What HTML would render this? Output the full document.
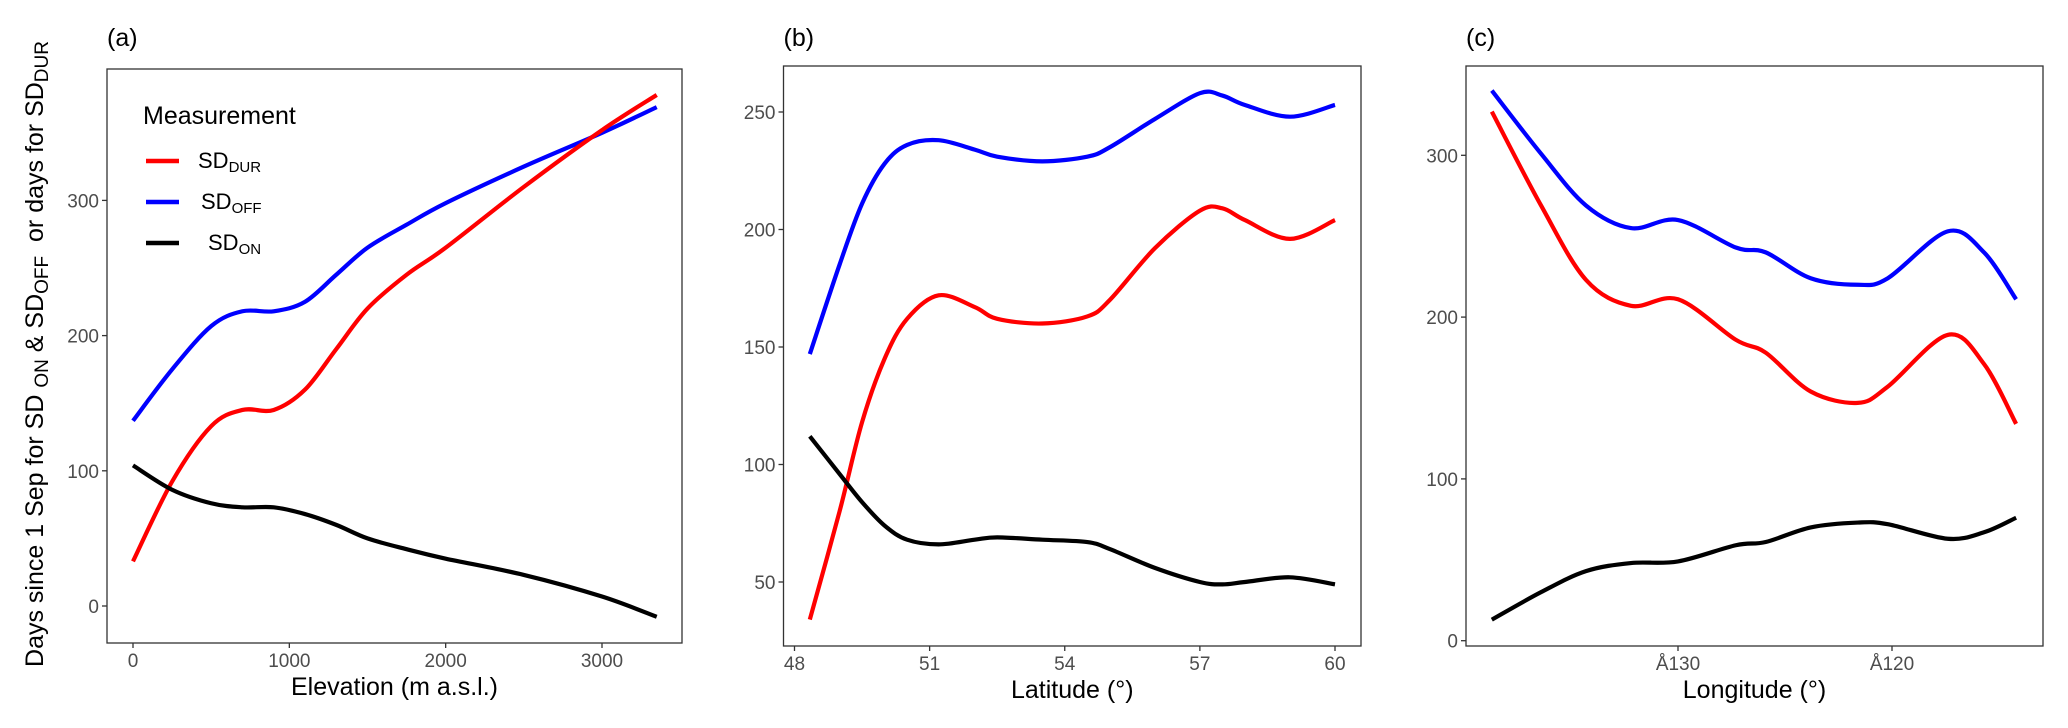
<!DOCTYPE html>
<html><head><meta charset="utf-8"><style>
html,body{margin:0;padding:0;background:#fff}
svg{display:block;font-family:"Liberation Sans",Arial,sans-serif}
.tick{fill:#4d4d4d;font-size:19px}
.ttl{fill:#000;font-size:25px}
</style></head><body>
<svg id="chart" width="2068" height="728" viewBox="0 0 2068 728">
<g id="root"></g>
</svg>
<script>
// Panel (a): elevation
const elevX=[0,250,500,700,900,1100,1300,1500,1750,2000,2500,3000,3350];
const elevOff=[137,175,207,218,218,225,245,265,282,298,325,350,369];
const elevDur=[33,92,133,145,145,160,190,220,245,265,310,352,378];
const elevOn=[104,86,76,73,73,68,60,50,42,35,23,7,-8];
const elevXTicks=[0,1000,2000,3000];
const elevYTicks=[0,100,200,300];
// Panel (b): latitude
const latX=[48.34,49,49.5,50,50.5,51.2,52,52.5,53.5,54.5,55,56,57,57.5,58,59,60];
const latOff=[147,185,211,228,236,238,234,231,229,231,235,247,258,257,253,248,253];
const latDur=[34,80,118,145,162,172,167,162,160,163,170,192,208,209,204,196,204];
const latOn=[112,96,84,74,68,66,68,69,68,67,64,56,50,49,50,52,49];
const latXTicks=[48,51,54,57,60];
const latYTicks=[50,100,150,200,250];
// Panel (c): longitude
const lonX=[-138.7,-136.4,-134.3,-132.2,-130,-127.3,-125.9,-123.8,-121.6,-120.2,-117.4,-115.7,-114.2];
const lonOff=[340,301,269,255,260,243,240,224,220,224,253,240,211];
const lonDur=[327,269,223,207,211,186,178,154,147,157,189,171,134];
const lonOn=[13,30,43,48,49,59,61,70,73,72,63,67,76];
const lonXTicks=[-130,-120];
const lonXTickLabels=["Å130","Å120"];
const lonYTicks=[0,100,200,300];

const NS="http://www.w3.org/2000/svg";
const root=document.getElementById('root');
function mk(tag,attrs,parent){const e=document.createElementNS(NS,tag);for(const k in attrs)e.setAttribute(k,attrs[k]);(parent||root).appendChild(e);return e;}
function lin(d0,d1,r0,r1){return v=>r0+(v-d0)/(d1-d0)*(r1-r0);}
function spline(pts){let d=`M${pts[0][0]},${pts[0][1]}`;for(let i=0;i<pts.length-1;i++){const p0=pts[i-1]||pts[i],p1=pts[i],p2=pts[i+1],p3=pts[i+2]||p2;const c1=[p1[0]+(p2[0]-p0[0])/6,p1[1]+(p2[1]-p0[1])/6],c2=[p2[0]-(p3[0]-p1[0])/6,p2[1]-(p3[1]-p1[1])/6];d+=`C${c1[0]},${c1[1]} ${c2[0]},${c2[1]} ${p2[0]},${p2[1]}`;}return d;}

function panel(o){
  const g=mk('g',{});
  
  
  const box=mk('rect',{x:o.L,y:o.T,width:o.R-o.L,height:o.B-o.T,fill:'none',stroke:'#333',"stroke-width":1.3},g);
  
  
  o.yt.forEach(v=>{const y=o.sy(v);
    const t=mk('line',{x1:o.L-5,x2:o.L,y1:y,y2:y,stroke:'#333',"stroke-width":1.3},g);
    
    const l=mk('text',{x:o.L-8,y:y+7,"text-anchor":"end",class:"tick"},g);l.textContent=v;
    });
  o.xt.forEach((v,i)=>{const x=o.sx(v);
    const t=mk('line',{x1:x,x2:x,y1:o.B,y2:o.B+5,stroke:'#333',"stroke-width":1.3},g);
    
    const l=mk('text',{x:x,y:o.B+24,"text-anchor":"middle",class:"tick"},g);l.textContent=o.xl?o.xl[i]:v;
    });
  const xt=mk('text',{x:(o.L+o.R)/2,y:o.B+52,"text-anchor":"middle",class:"ttl"},g);xt.textContent=o.xtitle;
  
  const pl=mk('text',{x:o.L,y:46,class:"ttl","font-size":"24px"},g);pl.textContent=o.tag;
  
  o.series.forEach(s=>{const pts=o.x.map((xv,i)=>[o.sx(xv),o.sy(s.v[i])]);
    const p=mk('path',{d:spline(pts),fill:'none',stroke:s.c,"stroke-width":4.2,"stroke-linejoin":"round"},g);
    });
}
panel({name:'panel-a-elevation',tag:'(a)',L:107,T:69,R:682,B:643,sx:lin(0,3000,133,602),sy:lin(0,100,606,470.8),
  yt:elevYTicks,xt:elevXTicks,x:elevX,xtitle:'Elevation (m a.s.l.)',
  series:[{n:'line-sd-off',v:elevOff,c:'#0000ff'},{n:'line-sd-dur',v:elevDur,c:'#ff0000'},{n:'line-sd-on',v:elevOn,c:'#000'}]});
panel({name:'panel-b-latitude',tag:'(b)',L:783.5,T:66,R:1361,B:646,sx:lin(48,60,794.5,1335),sy:lin(50,250,582,112),
  yt:latYTicks,xt:latXTicks,x:latX,xtitle:'Latitude (°)',
  series:[{n:'line-sd-off',v:latOff,c:'#0000ff'},{n:'line-sd-dur',v:latDur,c:'#ff0000'},{n:'line-sd-on',v:latOn,c:'#000'}]});
panel({name:'panel-c-longitude',tag:'(c)',L:1466,T:66,R:2043,B:646,sx:lin(-130,-120,1678,1892),sy:lin(0,100,640.7,478.9),
  yt:lonYTicks,xt:lonXTicks,xl:lonXTickLabels,x:lonX,xtitle:'Longitude (°)',
  series:[{n:'line-sd-off',v:lonOff,c:'#0000ff'},{n:'line-sd-dur',v:lonDur,c:'#ff0000'},{n:'line-sd-on',v:lonOn,c:'#000'}]});

// legend
const lg=mk('g',{});


const lt=mk('text',{x:143,y:124,class:'ttl'},lg);lt.textContent='Measurement';

const legItems=[['DUR','#ff0000',161,198],['OFF','#0000ff',202,201],['ON','#000',243,208]];
legItems.forEach(([sub,c,y,tx])=>{
  const ln=mk('line',{x1:146,x2:179,y1:y,y2:y,stroke:c,"stroke-width":4.5},lg);
  
  const t=mk('text',{x:tx,y:y+7,"font-size":"22px",fill:'#000'},lg);
  
  t.innerHTML='SD<tspan font-size="15px" dy="4">'+sub+'</tspan>';
});
// y-axis title
const yt=mk('text',{transform:'translate(43,354) rotate(-90)',"text-anchor":"middle",class:'ttl',"font-size":"26px"});


yt.innerHTML='Days since 1 Sep for SD <tspan font-size="19px" dy="5">ON</tspan><tspan dy="-5"> &amp; SD</tspan><tspan font-size="19px" dy="5">OFF</tspan><tspan dy="-5" xml:space="preserve">  or days for SD</tspan><tspan font-size="19px" dy="5">DUR</tspan>';
</script>
</body></html>
